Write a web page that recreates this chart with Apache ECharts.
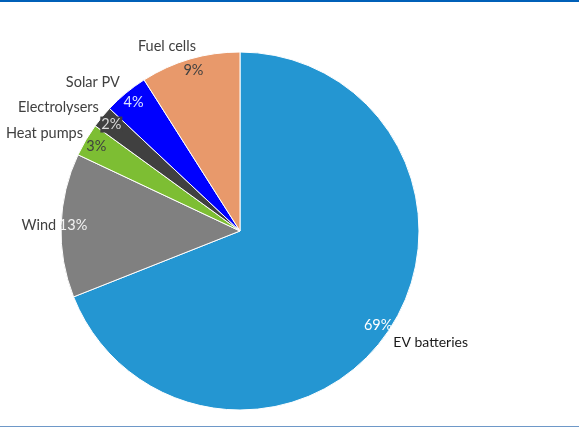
<!DOCTYPE html>
<html>
<head>
<meta charset="utf-8">
<script src="https://cdn.jsdelivr.net/npm/echarts@6/dist/echarts.min.js"></script>
<style>
  html, body { margin: 0; padding: 0; background: #fff; }
  #chart { width: 579px; height: 428px; position: relative; }
  .rule-top { position: absolute; left: 0; top: 0; width: 579px; height: 2px; background: #0060B8; }
  .rule-bottom { position: absolute; left: 0; top: 426px; width: 579px; height: 1px; background: #6E98C8; }
</style>
</head>
<body>
<div id="chart"></div>
<script>
// Share of demand by technology (%), clockwise from 12 o'clock
const categories = ['EV batteries', 'Wind', 'Heat pumps', 'Electrolysers', 'Solar PV', 'Fuel cells'];
const shares = [69, 13, 3, 2, 4, 9];

const sliceColors = ['#2496D2', '#808080', '#7DBE33', '#404040', '#0000FF', '#E8996B'];
const pctColors = ['#FFFFFF', '#F2F2F2', '#404040', '#D9D9D9', '#DDE6FF', '#404040'];
// outside name label placement tweaks: label-line length and gap to text
const nameLineLen = [18.5, 12, 13.5, 15.7, 13.6, 13.5];
const nameGap = [-10, -7, -8.7, -8.9, -2.7, -9.7];

const FONT = 'Lato, "Open Sans", sans-serif';
const R = 179;

const pieData = categories.map((name, i) => ({
  name,
  value: shares[i],
  itemStyle: { color: sliceColors[i] },
  label: {
    distanceToLabelLine: nameGap[i],
    color: i === 0 ? '#1A1A1A' : '#404040',
    fontSize: i === 0 ? 14 : 14.5
  },
  labelLine: { length: nameLineLen[i], length2: 0, show: false }
}));

const pctData = categories.map((name, i) => ({
  name,
  value: shares[i],
  label: Object.assign(
    { color: pctColors[i] },
    name === 'Electrolysers' ? { backgroundColor: '#404040', padding: [1, 1, 0, 1] } : {}
  )
}));

const chart = echarts.init(document.getElementById('chart'), null, { renderer: 'canvas' });
chart.setOption({
  backgroundColor: '#ffffff',
  animation: false,
  series: [
    {
      type: 'pie',
      center: [240, 231],
      radius: R,
      startAngle: 90,
      clockwise: true,
      avoidLabelOverlap: false,
      silent: true,
      itemStyle: { borderColor: '#ffffff', borderWidth: 1 },
      label: {
        show: true,
        position: 'outside',
        formatter: '{b}',
        fontFamily: FONT,
        fontSize: 14.5
      },
      labelLine: { show: false },
      data: pieData
    },
    {
      // transparent ring that carries the percentage labels near the rim
      type: 'pie',
      center: [240, 231],
      radius: [151, 177],
      startAngle: 90,
      clockwise: true,
      silent: true,
      itemStyle: { color: 'rgba(0,0,0,0)', borderWidth: 0 },
      label: {
        show: true,
        position: 'inside',
        formatter: '{c}%',
        fontFamily: FONT,
        fontSize: 14.5
      },
      labelLine: { show: false },
      data: pctData
    }
  ]
});
</script>
<div class="rule-top"></div>
<div class="rule-bottom"></div>
</body>
</html>
